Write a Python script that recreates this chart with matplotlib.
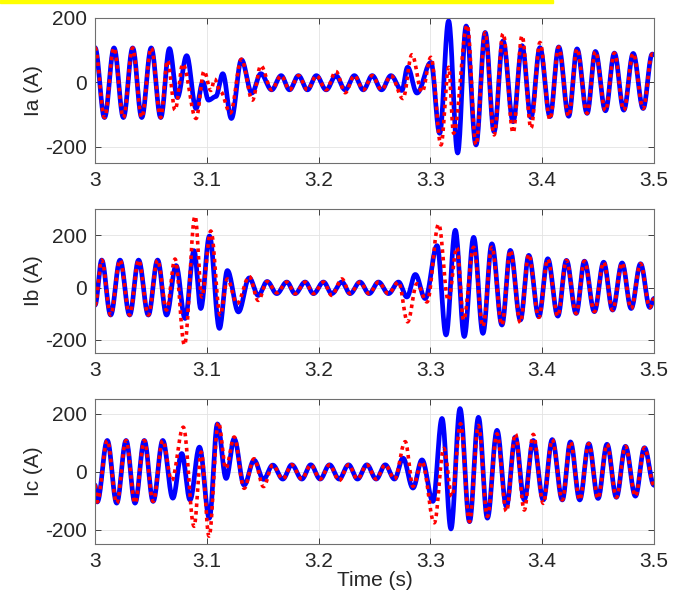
import numpy as np
import matplotlib
matplotlib.use("Agg")
import matplotlib.pyplot as plt

plt.rcParams['font.family'] = ['Liberation Sans', 'DejaVu Sans']
plt.rcParams['axes.unicode_minus'] = False

# peak / trough points (time s, current A) of each phase current
ia_solid = [(3.000, 108), (3.0085, -109), (3.017, 107), (3.0254, -109), (3.0337, 107),
            (3.0418, -109), (3.0503, 107), (3.0588, -109), (3.0666, 105), (3.0737, -47),
            (3.082, 83), (3.0904, -81), (3.0964, 1), (3.1015, -55), (3.108, -44),
            (3.1143, 27), (3.122, -112), (3.131, 70), (3.1403, -33), (3.1483, 27),
            (3.158, -23), (3.1665, 21), (3.174, -23), (3.182, 21), (3.190, -23),
            (3.198, 21), (3.2068, -23), (3.2155, 21), (3.2238, -23), (3.232, 21),
            (3.240, -23), (3.248, 21), (3.2563, -23), (3.2647, 21), (3.2745, -25),
            (3.2796, 47), (3.288, -33), (3.3005, 62), (3.3083, -158), (3.3163, 191),
            (3.3244, -219), (3.332, 175), (3.3408, -194), (3.349, 155), (3.357, -153),
            (3.365, 129), (3.374, -122), (3.382, 114), (3.390, -109), (3.398, 108),
            (3.407, -106), (3.4148, 110), (3.4237, -105), (3.4312, 104), (3.4402, -96),
            (3.4476, 96), (3.4566, -88), (3.4646, 91), (3.473, -86), (3.4814, 90),
            (3.4903, -81), (3.4984, 88), (3.500, 86)]
ia_dotted = [(3.000, 108), (3.0085, -109), (3.017, 107), (3.0254, -109), (3.0337, 107),
             (3.0418, -109), (3.0503, 107), (3.0588, -109), (3.0648, 68), (3.0716, -86),
             (3.0785, 57), (3.0904, -112), (3.0976, 35), (3.1036, -25), (3.107, 10),
             (3.112, -27), (3.121, -95), (3.131, 72), (3.1408, -55), (3.1483, 52),
             (3.158, -23), (3.1665, 21), (3.174, -23), (3.182, 21), (3.190, -23),
             (3.198, 21), (3.2068, -23), (3.2155, 34), (3.2238, -32), (3.232, 21),
             (3.240, -23), (3.248, 21), (3.2563, -23), (3.2647, 21), (3.2755, -50),
             (3.2835, 86), (3.2925, -30), (3.3005, 78), (3.3095, -194), (3.3163, 47),
             (3.3208, -158), (3.333, 178), (3.3408, -194), (3.349, 155), (3.357, -163),
             (3.365, 152), (3.374, -156), (3.382, 145), (3.390, -142), (3.398, 124),
             (3.407, -115), (3.4148, 110), (3.4237, -105), (3.4312, 104), (3.4402, -96),
             (3.4476, 96), (3.4566, -88), (3.4646, 91), (3.473, -86), (3.4814, 90),
             (3.4903, -81), (3.4984, 88), (3.500, 86)]

ib_solid = [(3.000, -67), (3.006, 105), (3.014, -105), (3.0224, 105), (3.031, -105),
            (3.039, 105), (3.0477, -105), (3.056, 105), (3.064, -105), (3.0725, 84),
            (3.0806, -118), (3.0886, 141), (3.0946, -80), (3.1024, 197), (3.1113, -156),
            (3.1184, 65), (3.1283, -93), (3.138, 37), (3.146, -30), (3.154, 23),
            (3.1626, -23), (3.1716, 21), (3.179, -23), (3.188, 21), (3.1954, -23),
            (3.2044, 21), (3.2118, -23), (3.2208, 21), (3.2282, -23), (3.237, 21),
            (3.2452, -23), (3.2536, 21), (3.2625, -23), (3.2715, 21), (3.279, -36),
            (3.2865, 50), (3.2954, -42), (3.306, 160), (3.314, -181), (3.3223, 219),
            (3.3303, -187), (3.3387, 192), (3.347, -175), (3.355, 167), (3.364, -143),
            (3.3715, 142), (3.3805, -124), (3.388, 123), (3.397, -111), (3.405, 110),
            (3.414, -109), (3.4217, 104), (3.4304, -99), (3.4378, 101), (3.4467, -92),
            (3.455, 97), (3.463, -86), (3.4715, 94), (3.4796, -80), (3.488, 91),
            (3.4963, -76), (3.500, -42)]
ib_dotted = [(3.000, -67), (3.006, 105), (3.014, -105), (3.0224, 105), (3.031, -105),
             (3.039, 105), (3.0477, -105), (3.056, 105), (3.064, -86), (3.0716, 109),
             (3.080, -219), (3.0895, 273), (3.0955, -36), (3.1036, 216), (3.112, -105),
             (3.1184, 33), (3.127, -61), (3.138, 42), (3.146, -49), (3.154, 23),
             (3.1626, -20), (3.1716, 21), (3.179, -23), (3.188, 21), (3.1954, -23),
             (3.2044, 21), (3.2118, -30), (3.2208, 33), (3.2282, -23), (3.237, 21),
             (3.2452, -23), (3.2536, 21), (3.2625, -23), (3.2715, 21), (3.2796, -131),
             (3.288, 15), (3.297, -55), (3.3074, 242), (3.316, -49), (3.3238, 153),
             (3.3297, -124), (3.3387, 154), (3.347, -149), (3.355, 154), (3.364, -143),
             (3.3715, 142), (3.3805, -134), (3.388, 127), (3.397, -114), (3.405, 108),
             (3.414, -109), (3.4217, 104), (3.4304, -99), (3.4378, 101), (3.4467, -92),
             (3.455, 97), (3.463, -86), (3.4715, 94), (3.4796, -80), (3.488, 91),
             (3.4963, -76), (3.500, -42)]

ic_solid = [(3.000, -47), (3.002, -105), (3.011, 107), (3.0194, -109), (3.0278, 107),
            (3.0358, -109), (3.0441, 107), (3.052, -103), (3.0606, 107), (3.0696, -92),
            (3.0776, 62), (3.085, -98), (3.0934, 84), (3.1023, -161), (3.1095, 164),
            (3.1173, -24), (3.1245, 113), (3.1334, -47), (3.1423, 39), (3.1507, -27),
            (3.159, 22), (3.168, -26), (3.176, 23), (3.185, -26), (3.193, 23),
            (3.2014, -26), (3.2098, 23), (3.2184, -26), (3.2268, 23), (3.2348, -26),
            (3.2432, 23), (3.2515, -26), (3.2596, 23), (3.2679, -26), (3.2755, 46),
            (3.2844, -57), (3.2925, 40), (3.3023, -103), (3.3104, 183), (3.3184, -198),
            (3.3265, 217), (3.335, -173), (3.343, 187), (3.351, -161), (3.3596, 142),
            (3.368, -121), (3.376, 119), (3.384, -98), (3.392, 107), (3.401, -98),
            (3.409, 110), (3.418, -98), (3.4253, 102), (3.4336, -98), (3.4417, 96),
            (3.450, -93), (3.458, 94), (3.4664, -89), (3.4745, 87), (3.4834, -85),
            (3.4915, 82), (3.500, -47)]
ic_dotted = [(3.000, -47), (3.002, -105), (3.011, 107), (3.0194, -109), (3.0278, 107),
             (3.0358, -109), (3.0441, 107), (3.052, -103), (3.0606, 107), (3.0686, -30),
             (3.079, 153), (3.0886, -189), (3.095, 67), (3.102, -223), (3.1104, 170),
             (3.117, 10), (3.1245, 119), (3.1334, -58), (3.1423, 44), (3.1507, -52),
             (3.159, 22), (3.168, -26), (3.176, 23), (3.185, -26), (3.193, 23),
             (3.2014, -26), (3.2098, 23), (3.2184, -31), (3.2268, 23), (3.2348, -26),
             (3.2432, 23), (3.2515, -26), (3.2596, 23), (3.2679, -26), (3.2775, 103),
             (3.2844, -51), (3.2925, 34), (3.3035, -177), (3.312, 80), (3.3193, -86),
             (3.327, 165), (3.335, -173), (3.343, 159), (3.351, -155), (3.3596, 130),
             (3.368, -138), (3.376, 130), (3.384, -133), (3.392, 128), (3.401, -110),
             (3.409, 110), (3.418, -98), (3.4253, 102), (3.4336, -98), (3.4417, 96),
             (3.450, -93), (3.458, 94), (3.4664, -89), (3.4745, 87), (3.4834, -85),
             (3.4915, 82), (3.500, -47)]

labels = ['Ia (A)', 'Ib (A)', 'Ic (A)']
ylims = [(-250, 200), (-250, 300), (-250, 250)]
xticks = [3, 3.1, 3.2, 3.3, 3.4, 3.5]
yticks = [-200, 0, 200]


def wave(points, n=20):
    # join successive extrema with half-cosine arcs so the trace looks sinusoidal
    tt, vv = [], []
    for (t0, v0), (t1, v1) in zip(points[:-1], points[1:]):
        s = np.linspace(0, 1, n, endpoint=False)
        tt.append(t0 + (t1 - t0) * s)
        vv.append(v0 + (v1 - v0) * (1 - np.cos(np.pi * s)) / 2)
    tt.append([points[-1][0]])
    vv.append([points[-1][1]])
    return np.concatenate(tt), np.concatenate(vv)


fig = plt.figure(figsize=(6.82, 5.95), dpi=100)
fig.patches.append(plt.Rectangle((0, 1 - 3 / 595), 553 / 682, 3 / 595,
                                 transform=fig.transFigure, color='yellow', zorder=10))

boxes = [[0.1393, 0.7261, 0.8196, 0.2437],
         [0.1393, 0.4067, 0.8196, 0.2420],
         [0.1393, 0.0857, 0.8196, 0.2437]]
series = [(ia_solid, ia_dotted), (ib_solid, ib_dotted), (ic_solid, ic_dotted)]
txt = '#262626'

for k, box in enumerate(boxes):
    ax = fig.add_axes(box)
    solid, dotted = series[k]
    t, v = wave(solid)
    ax.plot(t, v, color='#0000ff', lw=3.4, solid_joinstyle='round')
    t, v = wave(dotted)
    ax.plot(t, v, color='#ff0000', lw=2.6, linestyle=(0, (1, 1.1)))
    ax.set_xlim(3, 3.5)
    ax.set_ylim(*ylims[k])
    ax.set_xticks(xticks)
    ax.set_xticklabels(['3', '3.1', '3.2', '3.3', '3.4', '3.5'])
    ax.set_yticks(yticks)
    ax.set_ylabel(labels[k], fontsize=15, color=txt, labelpad=1)
    ax.grid(True, color='#e3e3e3', lw=0.6)
    ax.set_axisbelow(True)
    ax.tick_params(direction='in', length=4, width=0.6, colors=txt, labelsize=15,
                   top=True, right=True, pad=6)
    for sp in ax.spines.values():
        sp.set_color('#6f6f6f')
        sp.set_linewidth(0.8)
    if k == 2:
        ax.set_xlabel('Time (s)', fontsize=15, color=txt, labelpad=0)

fig.savefig('out.png', dpi=100)
